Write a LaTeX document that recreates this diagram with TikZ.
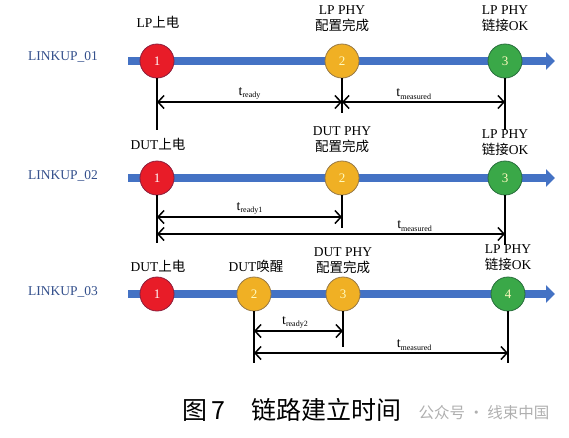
\documentclass[tikz,border=0pt]{standalone}
\usepackage{fontspec}
\setmainfont{Liberation Serif}
\newfontfamily\cjk{Noto Sans CJK SC}
\usetikzlibrary{arrows.meta}

\definecolor{barblue}{RGB}{68,114,196}
\definecolor{linkblue}{RGB}{52,80,140}
\definecolor{redfill}{RGB}{232,28,40}
\definecolor{redline}{RGB}{140,30,60}
\definecolor{orangefill}{RGB}{240,176,36}
\definecolor{orangeline}{RGB}{150,120,70}
\definecolor{greenfill}{RGB}{58,168,72}
\definecolor{greenline}{RGB}{40,110,60}
\definecolor{numyellow}{RGB}{255,250,190}
\definecolor{wmgray}{RGB}{175,175,175}

% time label with small subscript
\newcommand{\tsub}[1]{t\raisebox{-2.5pt}{\fontsize{8}{8}\selectfont #1}}

\tikzset{
  timebar/.style={line width=8.5pt, barblue, -{Triangle[length=9pt,width=17pt]}},
  event/.style={circle, minimum size=34pt, inner sep=0pt, line width=0.8pt,
    font=\fontsize{13}{13}\selectfont},
  redev/.style={event, fill=redfill, draw=redline, text=white},
  orangeev/.style={event, fill=orangefill, draw=orangeline, text=numyellow},
  greenev/.style={event, fill=greenfill, draw=greenline, text=numyellow},
  tag/.style={align=center, font=\fontsize{13.5}{16}\selectfont, inner sep=0pt},
  linkname/.style={font=\fontsize{13.5}{13.5}\selectfont, text=linkblue},
  drop/.style={line width=1.2pt},
  span/.style={line width=1.5pt,
    {Straight Barb[length=6pt,width=13pt]}-{Straight Barb[length=6pt,width=13pt]}},
  tlabel/.style={font=\fontsize{14}{14}\selectfont, above, inner sep=2pt}
}

\begin{document}
\begin{tikzpicture}[x=1pt,y=-1pt]
  \useasboundingbox (0,0) rectangle (569,437);

  % LINKUP_01
  \node[linkname] (l1) at (63,57) {LINKUP\_01};
  \coordinate (s1) at (128,61);
  \coordinate (e1) at (555,61);
  \draw[timebar] (s1) -- (e1);
  \node[redev] (r1a) at (157,61) {1};
  \node[orangeev] (r1b) at (342,61) {2};
  \node[greenev] (r1c) at (505,61) {3};
  \node[tag] (t1a) at (158,22) {LP\cjk 上电};
  \node[tag] (t1b) at (342,19) {LP PHY\\{\cjk 配置完成}};
  \node[tag] (t1c) at (505,19) {LP PHY\\{\cjk 链接}OK};
  \coordinate (d1a) at (157,130);
  \coordinate (d1b) at (342,113);
  \coordinate (d1c) at (505,130);
  \draw[drop] (r1a) -- (d1a);
  \draw[drop] (r1b) -- (d1b);
  \draw[drop] (r1c) -- (d1c);
  \coordinate (a1a) at (157,102);
  \coordinate (a1b) at (342,102);
  \coordinate (a1c) at (505,102);
  \draw[span] (a1a) -- node[tlabel] {\tsub{ready}} (a1b);
  \draw[span] (a1b) -- node[tlabel, pos=0.44] {\tsub{measured}} (a1c);

  % LINKUP_02
  \node[linkname] (l2) at (63,176) {LINKUP\_02};
  \coordinate (s2) at (128,178);
  \coordinate (e2) at (555,178);
  \draw[timebar] (s2) -- (e2);
  \node[redev] (r2a) at (157,178) {1};
  \node[orangeev] (r2b) at (342,178) {2};
  \node[greenev] (r2c) at (505,178) {3};
  \node[tag] (t2a) at (158,144) {DUT\cjk 上电};
  \node[tag] (t2b) at (342,140) {DUT PHY\\{\cjk 配置完成}};
  \node[tag] (t2c) at (505,143) {LP PHY\\{\cjk 链接}OK};
  \coordinate (d2a) at (157,243);
  \coordinate (d2b) at (342,228);
  \coordinate (d2c) at (505,245);
  \draw[drop] (r2a) -- (d2a);
  \draw[drop] (r2b) -- (d2b);
  \draw[drop] (r2c) -- (d2c);
  \coordinate (a2a) at (157,217);
  \coordinate (a2b) at (342,217);
  \coordinate (m2a) at (157,234);
  \coordinate (m2c) at (505,234);
  \draw[span] (a2a) -- node[tlabel] {\tsub{ready1}} (a2b);
  \draw[span] (m2a) -- node[tlabel, pos=0.74] {\tsub{measured}} (m2c);

  % LINKUP_03
  \node[linkname] (l3) at (63,292) {LINKUP\_03};
  \coordinate (s3) at (128,294);
  \coordinate (e3) at (555,294);
  \draw[timebar] (s3) -- (e3);
  \node[redev] (r3a) at (157,294) {1};
  \node[orangeev] (r3b) at (254,294) {2};
  \node[orangeev] (r3c) at (343,294) {3};
  \node[greenev] (r3d) at (508,294) {4};
  \node[tag] (t3a) at (158,266) {DUT\cjk 上电};
  \node[tag] (t3b) at (256,266) {DUT\cjk 唤醒};
  \node[tag] (t3c) at (343,261) {DUT PHY\\{\cjk 配置完成}};
  \node[tag] (t3d) at (508,258) {LP PHY\\{\cjk 链接}OK};
  \coordinate (d3b) at (254,363);
  \coordinate (d3c) at (343,347);
  \coordinate (d3d) at (508,363);
  \draw[drop] (r3b) -- (d3b);
  \draw[drop] (r3c) -- (d3c);
  \draw[drop] (r3d) -- (d3d);
  \coordinate (a3b) at (254,331);
  \coordinate (a3c) at (343,331);
  \coordinate (m3b) at (254,353);
  \coordinate (m3d) at (508,353);
  \draw[span] (a3b) -- node[tlabel, pos=0.46] {\tsub{ready2}} (a3c);
  \draw[span] (m3b) -- node[tlabel, pos=0.63] {\tsub{measured}} (m3d);

  % caption
  \node[font=\cjk\fontsize{25}{25}\selectfont] (cap) at (292,410)
    {图\hspace{4pt}7\hspace{26pt}链路建立时间};
  \node[font=\cjk\fontsize{15.5}{15.5}\selectfont, text=wmgray] (wm) at (484,413)
    {公众号 · 线束中国};
\end{tikzpicture}
\end{document}
